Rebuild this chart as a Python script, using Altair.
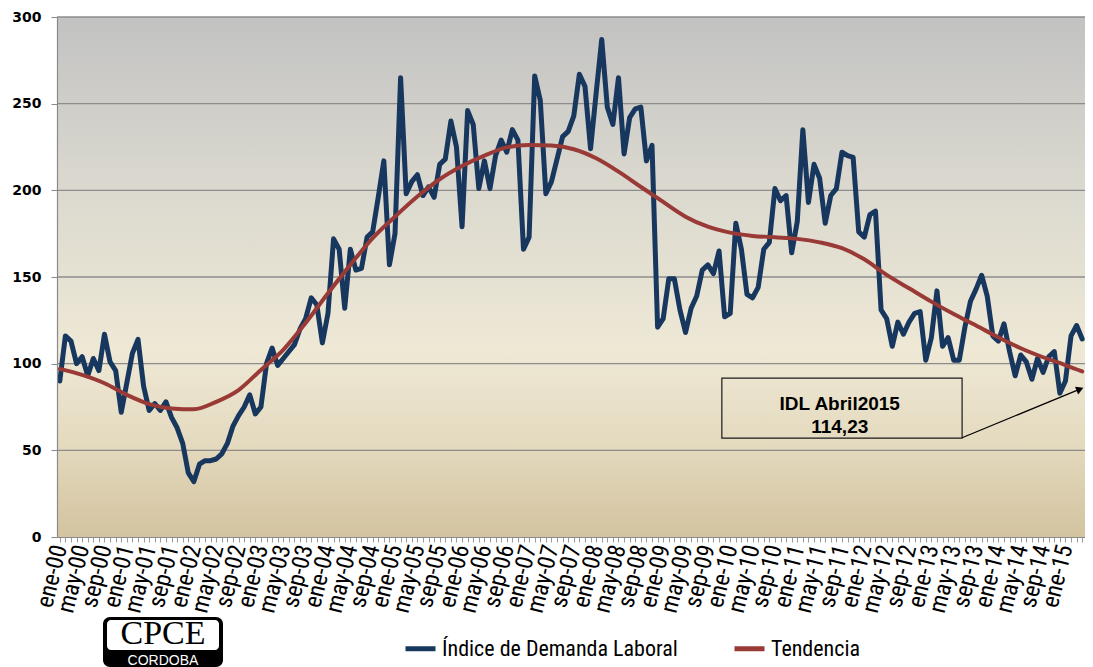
import json
import altair as alt
import pandas as pd

# ---------------- data ----------------
MESES = ["ene", "feb", "mar", "abr", "may", "jun", "jul", "ago", "sep", "oct", "nov", "dic"]
ANIO_INICIO = 2000

SERIE_IDL = "Índice de Demanda Laboral"
SERIE_TEND = "Tendencia"

idl = [90, 116, 113, 100, 104, 93, 103, 96, 117, 101, 96, 72,
       89, 106, 114, 87, 73, 77, 73, 78, 69, 63, 54, 37,
       32, 42, 44, 44, 45, 48, 54, 64, 70, 75, 82, 71,
       75, 100, 109, 99, 103, 107, 111, 120, 126, 138, 134, 112,
       129, 172, 166, 132, 166, 154, 155, 173, 176, 196, 217, 157,
       175, 265, 198, 205, 209, 197, 202, 196, 215, 218, 240, 225,
       179, 246, 238, 201, 217, 201, 220, 229, 222, 235, 229, 166,
       173, 266, 252, 198, 205, 218, 231, 234, 243, 267, 260, 224,
       256, 287, 248, 238, 265, 221, 242, 247, 248, 217, 226, 121,
       126, 149, 149, 131, 118, 132, 139, 154, 157, 152, 165, 127,
       129, 181, 166, 140, 138, 144, 166, 170, 201, 194, 197, 164,
       182, 235, 193, 215, 207, 181, 197, 201, 222, 220, 219, 176,
       173, 186, 188, 131, 126, 110, 124, 117, 124, 129, 130, 102,
       115, 142, 110, 115, 102, 102, 121, 136, 143, 151, 139, 116,
       113, 123, 107, 93, 105, 101, 91, 103, 95, 104, 107, 83,
       90, 116, 122, 114.23]

tend_idx = [0, 4, 8, 12, 16, 20, 24, 28, 32, 36, 40, 44, 48, 52, 56, 60,
            64, 68, 72, 76, 80, 84, 88, 92, 96, 100, 104, 108, 112, 116, 120,
            124, 128, 132, 136, 140, 144, 148, 152, 156, 160, 164, 168, 172,
            176, 180, 183]
tend_val = [97, 93.5, 88.7, 82, 76.7, 74.2, 73.7, 78, 84.8, 96.4, 108, 123.5,
            140.6, 157, 172.4, 184.8, 196.4, 206.4, 214, 220, 224.8, 226.2,
            225.8, 223.7, 218.5, 210.8, 202, 193.3, 184.8, 179, 175.6, 173.7,
            172.9, 172, 170, 166.6, 160.2, 151.2, 143.5, 135.8, 128.6, 122,
            115.2, 108.9, 103.7, 99.2, 95.5]

y_ticks = [0, 50, 100, 150, 200, 250, 300]
grid_vals = [50, 100, 150, 200, 250, 300]

nota_lineas = ["IDL Abril2015", "114,23"]

periodos = [f"{MESES[k % 12]}-{(ANIO_INICIO + k // 12) % 100:02d}" for k in range(len(idl))]

df_idl = pd.DataFrame({"i": list(range(len(idl))), "valor": idl, "serie": SERIE_IDL})
df_tend = pd.DataFrame({"i": tend_idx, "valor": tend_val, "serie": SERIE_TEND})
df_grid = pd.DataFrame({"valor": grid_vals})

# ---------------- layout ----------------
W, H = 1028, 520
BLUE = "#17375e"
RED = "#993a36"
NARROW = "Liberation Sans Narrow, Roboto Condensed, Liberation Sans, sans-serif"

label_expr = ("datum.value % 4 === 0 ? " + json.dumps(periodos) +
              "[datum.value] : ''")

x_enc = alt.X(
    "i:Q",
    title=None,
    scale=alt.Scale(domain=[-0.5, len(idl) - 0.5], nice=False, zero=False),
    axis=alt.Axis(
        values=list(range(len(idl))), labelExpr=label_expr, grid=False,
        tickSize=5, tickColor="#9a9a9a", domainColor="#8a8a8a", domainWidth=1.2,
        labelAngle=-76, labelAlign="right", labelBaseline="middle",
        labelFont=NARROW, labelFontSize=24, labelColor="#000000",
        labelPadding=3, labelOverlap=False, labelFlush=False, zindex=1,
    ),
)
y_enc = alt.Y(
    "valor:Q",
    title=None,
    scale=alt.Scale(domain=[0, 300], nice=False),
    axis=alt.Axis(
        values=y_ticks, grid=False, tickSize=6, tickColor="#8a8a8a",
        domainColor="#8a8a8a", domainWidth=1.2, labelFont="DejaVu Sans",
        labelFontWeight="bold", labelFontSize=14, labelColor="#000000",
        labelPadding=10, zindex=1,
    ),
)

color_enc = alt.Color(
    "serie:N",
    scale=alt.Scale(domain=[SERIE_IDL, SERIE_TEND], range=[BLUE, RED]),
    legend=alt.Legend(
        title=None, orient="none", legendX=346, legendY=614,
        direction="horizontal", symbolType="stroke", symbolStrokeWidth=5,
        symbolSize=900, labelFont=NARROW, labelFontSize=22, labelLimit=500,
        labelColor="#000000", columnPadding=46, labelOffset=4,
    ),
)

dummy = pd.DataFrame({"k": [0]})

fondo = alt.Chart(dummy).mark_rect(
    fill=alt.LinearGradient(
        gradient="linear", x1=0, x2=0, y1=0, y2=1,
        stops=[
            alt.GradientStop(color="#c2c2c2", offset=0),
            alt.GradientStop(color="#dbd9cf", offset=0.33),
            alt.GradientStop(color="#eee8d5", offset=0.64),
            alt.GradientStop(color="#e4dabf", offset=0.82),
            alt.GradientStop(color="#d3c39f", offset=1),
        ],
    )
).encode(x=alt.value(0), x2=alt.value(W), y=alt.value(0), y2=alt.value(H))

grilla = alt.Chart(df_grid).mark_rule(color="#8c8c8c", strokeWidth=1.3).encode(y=y_enc)

linea_idl = alt.Chart(df_idl).mark_line(
    strokeWidth=5, strokeJoin="round", strokeCap="round"
).encode(x=x_enc, y=y_enc, color=color_enc)

linea_tend = alt.Chart(df_tend).mark_line(
    strokeWidth=4, interpolate="monotone", strokeCap="round"
).encode(x=x_enc, y=y_enc, color=color_enc)

# annotation box (data coordinates)
caja = pd.DataFrame({"i": [118.5], "i2": [161.5], "valor": [91.7], "valor2": [57.1]})
nota_caja = alt.Chart(caja).mark_rect(
    fillOpacity=0, stroke="#1a1a1a", strokeWidth=1.2
).encode(x=x_enc, x2="i2:Q", y=y_enc, y2="valor2:Q")

nota_pos = pd.DataFrame({"i": [139.6], "valor": [77.0]})
nota_txt = alt.Chart(nota_pos).mark_text(
    font="Liberation Sans", fontWeight="bold", fontSize=19, lineHeight=23,
    color="#000000", align="center", baseline="middle",
).encode(x=x_enc, y=y_enc, text=alt.value(nota_lineas))

flecha = pd.DataFrame({"i": [161.5], "i2": [182.6], "valor": [57.3], "valor2": [85.3]})
nota_flecha = alt.Chart(flecha).mark_rule(color="#000000", strokeWidth=1.2).encode(
    x=x_enc, x2="i2:Q", y=y_enc, y2="valor2:Q")
punta = pd.DataFrame({"i": [182.6], "valor": [85.3]})
nota_punta = alt.Chart(punta).mark_point(
    shape="triangle-right", filled=True, color="#000000", opacity=1,
    size=70, angle=338,
).encode(x=x_enc, y=y_enc)

# logo
logo_rect = alt.Chart(dummy).mark_rect(color="#000000", cornerRadius=7).encode(
    x=alt.value(46), x2=alt.value(166), y=alt.value(600), y2=alt.value(650))
logo_inner = alt.Chart(dummy).mark_rect(color="#ffffff", cornerRadius=4).encode(
    x=alt.value(50), x2=alt.value(162), y=alt.value(603), y2=alt.value(633))
logo_cpce = alt.Chart(dummy).mark_text(
    text="CPCE", font="Liberation Serif", fontSize=34, color="#000000",
    align="center", baseline="alphabetic",
).encode(x=alt.value(106), y=alt.value(627))
logo_cba = alt.Chart(dummy).mark_text(
    text="CORDOBA", font="Liberation Sans", fontSize=14, color="#ffffff",
    align="center", baseline="alphabetic",
).encode(x=alt.value(106), y=alt.value(648))

chart = alt.layer(
    fondo, grilla, linea_idl, linea_tend, nota_caja, nota_txt, nota_flecha,
    nota_punta, logo_rect, logo_inner, logo_cpce, logo_cba,
).properties(
    width=W, height=H,
    autosize=alt.AutoSizeParams(type="none"),
    padding={"left": 49, "top": 9, "right": 0, "bottom": 130},
    background="#ffffff",
).configure_view(stroke=None)

chart.save("out.html", embed_options={"renderer": "svg", "actions": False})
